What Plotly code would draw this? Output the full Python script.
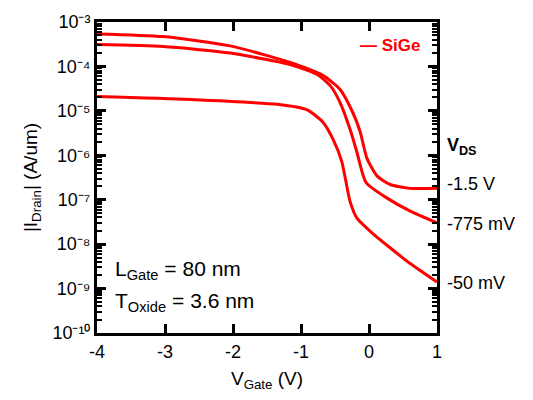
import math
import plotly.graph_objects as go

vg_15 = [-4.0, -3.03, -2.04, -1.16, -0.68, -0.43, -0.24, -0.13, -0.03, 0.12, 0.31, 0.60, 1.0]
id_15 = [5.4e-4, 4.7e-4, 2.9e-4, 1.23e-4, 6.3e-5, 3.1e-5, 9.3e-6, 3.4e-6, 8.5e-7, 3.4e-7, 2.2e-7, 1.8e-7, 1.8e-7]

vg_775 = [-4.0, -3.03, -2.04, -1.16, -0.76, -0.57, -0.43, -0.28, -0.18, -0.09, -0.04, 0.26, 0.60, 1.0]
id_775 = [3.1e-4, 2.8e-4, 2.0e-4, 1.1e-4, 6.6e-5, 3.7e-5, 1.6e-5, 3.9e-6, 1.2e-6, 3.7e-7, 2.4e-7, 1.1e-7, 5.6e-8, 3.0e-8]

vg_50 = [-4.0, -2.63, -1.35, -0.91, -0.68, -0.53, -0.40, -0.28, -0.18, 0.01, 0.31, 0.60, 1.0]
id_50 = [2.1e-5, 1.8e-5, 1.4e-5, 1.05e-5, 5.6e-6, 2.3e-6, 7.2e-7, 9.3e-8, 3.9e-8, 2.0e-8, 8.3e-9, 3.7e-9, 1.4e-9]

y_tickvals = [1e-10, 1e-9, 1e-8, 1e-7, 1e-6, 1e-5, 1e-4, 1e-3]
y_ticktext = ["10\u207b\u00b9\u2070", "10\u207b\u2079", "10\u207b\u2078", "10\u207b\u2077",
              "10\u207b\u2076", "10\u207b\u2075", "10\u207b\u2074", "10\u207b\u00b3"]
y_minor_vals = [m * 10.0 ** e for e in range(-10, -3) for m in range(2, 10)]
x_tickvals = [-4, -3, -2, -1, 0, 1]
x_ticktext = ["-4", "-3", "-2", "-1", "0", "1"]

vds_labels = ["-1.5 V", "-775 mV", "-50 mV"]
vds_label_y = [2.3e-7, 2.8e-8, 1.35e-9]
legend_label = "SiGe"

FONT = "Liberation Sans, Arial, sans-serif"
RED = "#ff0000"

fig = go.Figure()
for x, y in [(vg_15, id_15), (vg_775, id_775), (vg_50, id_50)]:
    fig.add_trace(go.Scatter(x=x, y=y, mode="lines", name=legend_label,
                             line=dict(color=RED, width=3, shape="spline", smoothing=0.6)))
# empty trace so the minor-tick overlay axis is drawn
fig.add_trace(go.Scatter(x=[None], y=[None], yaxis="y2", mode="lines", hoverinfo="skip"))

fig.update_xaxes(range=[-4, 1], tickvals=x_tickvals, ticktext=x_ticktext,
                 showline=True, linewidth=3, linecolor="black", mirror="ticks",
                 ticks="inside", ticklen=9, tickwidth=3, tickcolor="black",
                 showgrid=False, zeroline=False,
                 tickfont=dict(family=FONT, size=18, color="black"),
                 title=dict(text="V<sub>Gate</sub> (V)", font=dict(family=FONT, size=19, color="black"),
                            standoff=12))
fig.update_yaxes(type="log", range=[-10, -3], tickvals=y_tickvals, ticktext=y_ticktext,
                 showline=True, linewidth=3, linecolor="black", mirror="ticks",
                 ticks="inside", ticklen=9, tickwidth=3, tickcolor="black",
                 showgrid=False, zeroline=False,
                 tickfont=dict(family=FONT, size=18, color="black"),
                 title=dict(text="|I<sub>Drain</sub>| (A/um)", font=dict(family=FONT, size=19, color="black"),
                            standoff=10))
fig.update_layout(
    yaxis2=dict(type="log", range=[-10, -3], overlaying="y", side="left", tickvals=y_minor_vals,
                showticklabels=False, showline=True, linewidth=3, linecolor="black", mirror="ticks",
                ticks="inside", ticklen=5, tickwidth=2, tickcolor="black",
                showgrid=False, zeroline=False),
)

ann = [
    dict(x=0.957, y=0.924, xref="paper", yref="paper", text="<b>\u2014 " + legend_label + "</b>",
         showarrow=False, xanchor="right", yanchor="middle", font=dict(family=FONT, size=17, color=RED)),
    dict(x=-3.76, y=math.log10(2.6e-9), xref="x", yref="y", text="L<sub>Gate</sub> = 80 nm", showarrow=False,
         xanchor="left", font=dict(family=FONT, size=21, color="black")),
    dict(x=-3.76, y=math.log10(5.0e-10), xref="x", yref="y", text="T<sub>Oxide</sub> = 3.6 nm", showarrow=False,
         xanchor="left", font=dict(family=FONT, size=21, color="black")),
    dict(x=1.025, y=math.log10(1.6e-6), xref="paper", yref="y", text="<b>V<sub>DS</sub></b>", showarrow=False,
         xanchor="left", font=dict(family=FONT, size=18, color="black")),
]
for t, yy in zip(vds_labels, vds_label_y):
    ann.append(dict(x=1.025, y=math.log10(yy), xref="paper", yref="y", text=t, showarrow=False,
                    xanchor="left", font=dict(family=FONT, size=18, color="black")))

fig.update_layout(
    width=533, height=400, margin=dict(l=97, r=96, t=19, b=67),
    plot_bgcolor="white", showlegend=False,
    annotations=ann,
)

fig.write_html("out.html")
